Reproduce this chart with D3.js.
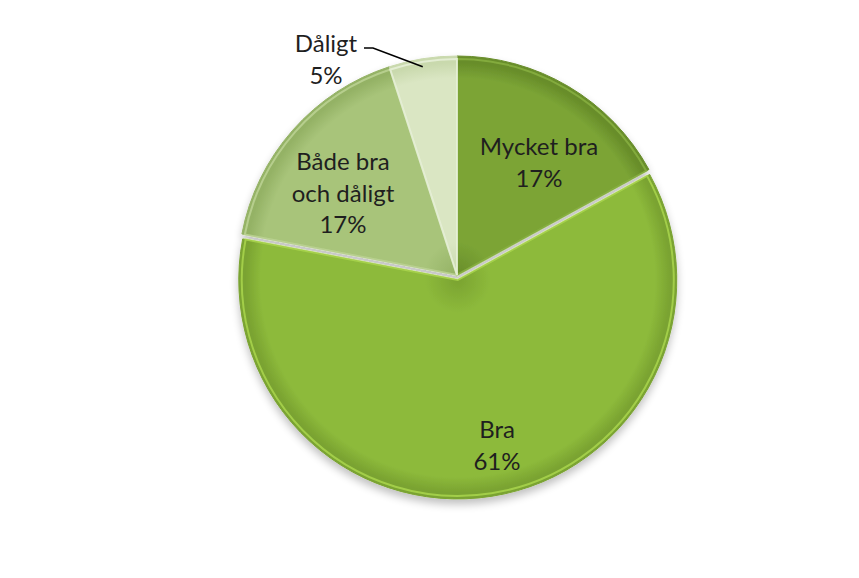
<!DOCTYPE html>
<html><head><meta charset="utf-8">
<script src="https://cdn.jsdelivr.net/npm/d3@7"></script>
<style>body{margin:0;background:#fff}svg{display:block}</style>
</head><body>
<svg id="c" width="859" height="578"></svg>
<script>
const categories = ["Mycket bra", "Bra", "Både bra och dåligt", "Dåligt"];
const values = [17, 61, 17, 5];
const labelLines = [["Mycket bra", "17%"], ["Bra", "61%"], ["Både bra", "och dåligt", "17%"], ["Dåligt", "5%"]];

const W = 859, H = 578, cx = 457, cy = 275, R = 219;
const svg = d3.select("#c");
const defs = svg.append("defs");

const pal = [
  {mid: "#7ba435", edge: "#688d2a", hi: "#8fb846"},
  {mid: "#8dba3b", edge: "#7aa331", hi: "#b4e052"},
  {mid: "#a8c47a", edge: "#94b265", hi: "#c4da9e"},
  {mid: "#dae6c3", edge: "#c9d9ad", hi: "#eef5e2"}
];
pal.forEach((p, i) => {
  const g = defs.append("radialGradient").attr("id", "g" + i)
    .attr("gradientUnits", "userSpaceOnUse").attr("cx", 0).attr("cy", 0).attr("r", R);
  g.append("stop").attr("offset", "0%").attr("stop-color", p.edge);
  g.append("stop").attr("offset", "15%").attr("stop-color", p.mid);
  g.append("stop").attr("offset", "90%").attr("stop-color", p.mid);
  g.append("stop").attr("offset", "97%").attr("stop-color", p.edge);
  g.append("stop").attr("offset", "100%").attr("stop-color", p.edge);
});
const f = defs.append("filter").attr("id", "sh").attr("x", "-20%").attr("y", "-20%").attr("width", "140%").attr("height", "140%");
f.append("feGaussianBlur").attr("in", "SourceAlpha").attr("stdDeviation", 4).attr("result", "b");
f.append("feOffset").attr("in", "b").attr("dx", 0).attr("dy", 5).attr("result", "o");
f.append("feComponentTransfer").attr("in", "o").attr("result", "o2")
  .append("feFuncA").attr("type", "linear").attr("slope", 0.25);
const m = f.append("feMerge");
m.append("feMergeNode").attr("in", "o2");
m.append("feMergeNode").attr("in", "SourceGraphic");

const pie = d3.pie().sort(null).value(d => d)(values);
const arc = d3.arc().innerRadius(0).outerRadius(R);
const explode = [0, 5, 0, 0];

const gp = svg.append("g").attr("transform", `translate(${cx},${cy})`).attr("filter", "url(#sh)");
pie.forEach((d, i) => {
  const mid = (d.startAngle + d.endAngle) / 2;
  const dx = Math.sin(mid) * explode[i], dy = -Math.cos(mid) * explode[i];
  const g = gp.append("g").attr("transform", `translate(${dx},${dy})`);
  g.append("path").attr("d", arc(d)).attr("fill", `url(#g${i})`)
    .attr("stroke", pal[i].edge).attr("stroke-width", 1);
  g.append("path").attr("d", d3.arc().innerRadius(0).outerRadius(R - 3)(d))
    .attr("fill", "none").attr("stroke", pal[i].hi).attr("stroke-width", 2).attr("stroke-opacity", 0.7);
});

// labels
const labelPos = [
  {x: 539, y: 155}, {x: 497, y: 438}, {x: 343, y: 170}, {x: 326, y: 52}
];
const lineH = 31.5;
labelLines.forEach((lines, i) => {
  const t = svg.append("text").attr("text-anchor", "middle")
    .attr("font-family", "Lato, 'Open Sans', sans-serif").attr("font-size", 24).attr("fill", "#1f1f1f");
  lines.forEach((s, k) => {
    t.append("tspan").attr("x", labelPos[i].x).attr("y", labelPos[i].y + k * lineH).text(s);
  });
});
// leader line for Dåligt
const dl = pie[3];
const amid = (dl.startAngle + dl.endAngle) / 2;
const px = cx + Math.sin(amid) * R, py = cy - Math.cos(amid) * R;
svg.append("path").attr("d", `M${px},${py + 8}L373,48L364,48`)
  .attr("fill", "none").attr("stroke", "#000").attr("stroke-width", 1.6);
</script>
</body></html>
